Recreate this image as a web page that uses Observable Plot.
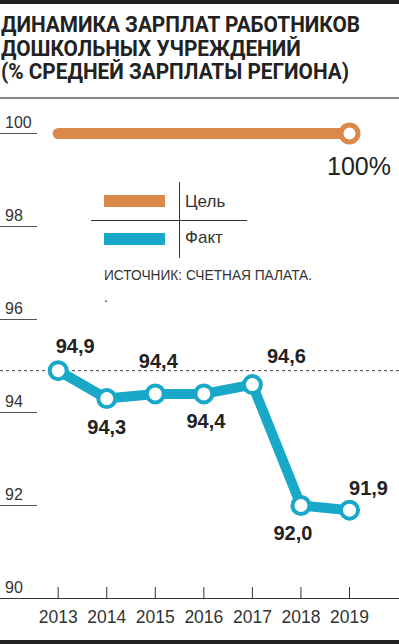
<!DOCTYPE html>
<html>
<head>
<meta charset="utf-8">
<script src="https://cdn.jsdelivr.net/npm/d3@7"></script>
<script src="https://cdn.jsdelivr.net/npm/@observablehq/plot@0.6"></script>
<style>
  html, body { margin: 0; padding: 0; background: #fff; }
  #wrap { position: relative; width: 399px; height: 644px; overflow: hidden; background: #fff;
          font-family: "Liberation Sans", Arial, sans-serif; color: #333; }
  #topbar { position: absolute; left: 0; top: 0; width: 399px; height: 4px; background: #222; }
  #title { position: absolute; left: 1px; top: 13px; font-family: Roboto, "Liberation Sans", sans-serif;
           font-size: 22px; line-height: 23.5px; font-weight: 700; color: #222; white-space: nowrap; transform-origin: 0 0; }
  #title .tl { height: 23.5px; }
  #rule { position: absolute; left: 0; top: 97px; width: 399px; height: 2px; background: #888; }
  #chart { position: absolute; left: 0; top: 100px; }
  #bottombar { position: absolute; left: 0; top: 640px; width: 399px; height: 4px; background: #222; }
  .sw { position: absolute; left: 104px; width: 61px; height: 12px; }
  .ln { position: absolute; background: #333; }
  .lg { position: absolute; left: 185px; font-size: 17px; line-height: 18px; color: #333; white-space: nowrap; }
  .src { position: absolute; left: 104px; font-size: 14px; line-height: 15px; color: #333; white-space: nowrap; transform-origin: 0 0; }
  g[aria-label="value-labels"] text { letter-spacing: 2.5px; }
</style>
</head>
<body>
<div id="wrap">
  <div id="topbar"></div>
  <div id="title"></div>
  <div id="rule"></div>
  <div id="chart"></div>
  <div id="legend"></div>
  <div id="bottombar"></div>
</div>
<script>
// ---- data ----
const titleLines = ["ДИНАМИКА ЗАРПЛАТ РАБОТНИКОВ", "ДОШКОЛЬНЫХ УЧРЕЖДЕНИЙ", "(% СРЕДНЕЙ ЗАРПЛАТЫ РЕГИОНА)"];
const years = [2013, 2014, 2015, 2016, 2017, 2018, 2019];
const factValues = [94.9, 94.3, 94.4, 94.4, 94.6, 92.0, 91.9];
const factLabels = ["94,9", "94,3", "94,4", "94,4", "94,6", "92,0", "91,9"];
const targetYears = [2013, 2019];
const targetValues = [100, 100];
const targetLabel = "100%";
const yTicks = [90, 92, 94, 96, 98, 100];
const referenceValue = 94.9;
const legendNames = ["Цель", "Факт"];
const sourceText = "ИСТОЧНИК: СЧЕТНАЯ ПАЛАТА.";

// ---- styles ----
const ORANGE = "#da894b";
const BLUE = "#19a8c8";
const labelOffsets = [[17, -24], [0, 29], [3, -32], [2, 27.5], [34, -28], [-8, 28], [19, -21.5]];

// title
const titleEl = document.getElementById("title");
titleEl.innerHTML = titleLines.map(t => `<div class="tl"><span>${t}</span></div>`).join("");

const fact = years.map((year, i) => ({year, value: factValues[i], label: factLabels[i]}));
const target = targetYears.map((year, i) => ({year, value: targetValues[i]}));
const targetEnd = target.slice(-1);

const chart = Plot.plot({
  width: 399,
  height: 540,
  marginTop: 0,
  marginRight: 0,
  marginBottom: 42,
  marginLeft: 0,
  x: {domain: [2013, 2019], range: [57.7, 349], axis: null},
  y: {domain: [90, 100], range: [498, 33], axis: null},
  style: {fontFamily: '"Liberation Sans", Arial, sans-serif', fontSize: "17px", color: "#333", background: "transparent"},
  marks: [
    Plot.tickY(yTicks, {y: d => d, insetRight: 362, stroke: "#555", strokeWidth: 1}),
    Plot.text(yTicks, {y: d => d, text: d => String(d), frameAnchor: "left", textAnchor: "start", dx: 4.5, dy: -11, fill: "#333", fontSize: 16, ariaLabel: "y-labels"}),
    Plot.ruleY([90], {stroke: "#333", strokeWidth: 1.2}),
    Plot.ruleY([referenceValue], {stroke: "#444", strokeWidth: 1, strokeDasharray: "3,3"}),
    Plot.tickX(years, {x: d => d, insetTop: 487, stroke: "#333", strokeWidth: 1}),
    Plot.text(years, {x: d => d, text: d => String(d), frameAnchor: "bottom", dy: 24, fill: "#333", fontSize: 17.5, ariaLabel: "x-labels"}),
    Plot.line(target, {x: "year", y: "value", stroke: ORANGE, strokeWidth: 11}),
    Plot.dot(targetEnd, {x: "year", y: "value", r: 8.5, fill: "white", stroke: ORANGE, strokeWidth: 5}),
    Plot.text(targetEnd, {x: "year", y: "value", text: () => targetLabel, dx: 9.5, dy: 33, fontSize: 25, fill: "#222"}),
    Plot.line(fact, {x: "year", y: "value", stroke: BLUE, strokeWidth: 10, strokeLinejoin: "round"}),
    Plot.dot(fact, {x: "year", y: "value", r: 8.5, fill: "white", stroke: BLUE, strokeWidth: 4}),
    ...fact.map((d, i) => Plot.text([d], {
      x: "year", y: "value", text: "label",
      dx: labelOffsets[i][0], dy: labelOffsets[i][1],
      fontSize: 20, fontWeight: "bold", fill: "#222",
      ariaLabel: "value-labels"
    }))
  ]
});
document.getElementById("chart").appendChild(chart);

// legend + source
const legend = document.getElementById("legend");
legend.innerHTML = `
  <div class="sw" style="top:195px;background:${ORANGE}"></div>
  <div class="sw" style="top:233px;background:${BLUE}"></div>
  <div class="ln" style="left:179px;top:182px;width:1px;height:76px"></div>
  <div class="ln" style="left:91px;top:220px;width:156px;height:1px"></div>
  <div class="lg" style="top:193px">${legendNames[0]}</div>
  <div class="lg" style="top:229px">${legendNames[1]}</div>
  <div class="src" id="srcline" style="top:268px">${sourceText}</div>
  <div class="src" style="top:290px">.</div>
`;

// condensed-type emulation
function condense(label, k) {
  chart.querySelectorAll(`g[aria-label="${label}"] text`).forEach(t => {
    t.removeAttribute("textLength");
    const L = t.getComputedTextLength();
    t.setAttribute("textLength", (L * k).toFixed(2));
    t.setAttribute("lengthAdjust", "spacingAndGlyphs");
  });
}
function fitWidth(el, measureEl, w) {
  el.style.transform = "none";
  const cur = measureEl.getBoundingClientRect().width;
  if (cur > 0) el.style.transform = `scaleX(${w / cur})`;
}
function layout() {
  condense("x-labels", 0.745);
  condense("y-labels", 0.925);
  fitWidth(titleEl, titleEl.querySelector("span"), 359);
  const src = document.getElementById("srcline");
  fitWidth(src, src, 208);
}
layout();
if (document.fonts && document.fonts.ready) document.fonts.ready.then(layout);
</script>
</body>
</html>
